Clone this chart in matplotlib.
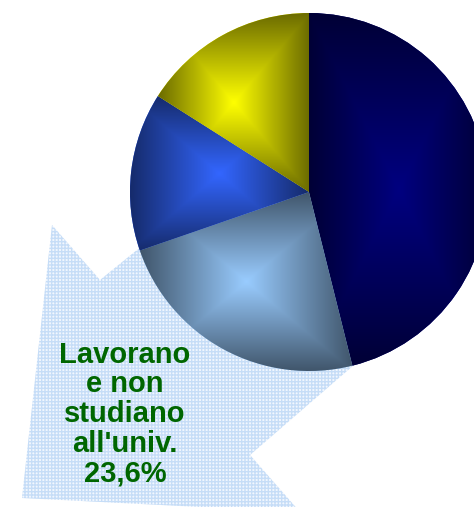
import numpy as np
import matplotlib.pyplot as plt
from matplotlib.patches import Polygon
from matplotlib.colors import to_rgb

# slice shares (percent), clockwise from 12 o'clock
values = [46.1, 23.6, 14.3, 16.0]
centre_colors = ['#000080', '#99ccff', '#3366ff', '#ffff00']
label_text = "Lavorano\ne non\nstudiano\nall'univ.\n23,6%"

W, H = 474, 507
fig = plt.figure(figsize=(W / 100, H / 100), dpi=100)
ax = fig.add_axes([0, 0, 1, 1])
ax.set_xlim(0, W)
ax.set_ylim(0, H)
ax.set_aspect('equal')
ax.axis('off')


def img(x, y):
    # image pixel coords -> axes coords (y up)
    return (x, H - y)


# callout arrow behind the pie
arrow_pts = [img(22, 498), img(52, 225), img(100, 280), img(260, 150),
             img(400, 325), img(250, 455), img(300, 512), img(22, 498)]
arrow = Polygon(arrow_pts, closed=True, facecolor='#f2f7fe',
                edgecolor='#c6ddf7', hatch='+++++', linewidth=0, zorder=1)
ax.add_patch(arrow)

cx, cy = img(309, 192)
R = 179
wedges, _ = ax.pie(values, colors=centre_colors, startangle=90,
                   counterclock=False, center=(cx, cy), radius=R,
                   frame=True, wedgeprops=dict(linewidth=0))
ax.axis('off')

# pyramid ("from centre") gradient inside each slice's bounding box
for w, col in zip(wedges, centre_colors):
    w.set_zorder(2)
    th = np.radians(np.linspace(w.theta1, w.theta2, 200))
    xs = np.concatenate([[cx], cx + R * np.cos(th)])
    ys = np.concatenate([[cy], cy + R * np.sin(th)])
    x0, x1, y0, y1 = xs.min(), xs.max(), ys.min(), ys.max()
    gx, gy = np.meshgrid(np.linspace(x0, x1, 300), np.linspace(y0, y1, 300))
    mx, my = (x0 + x1) / 2, (y0 + y1) / 2
    t = np.maximum(np.abs(gx - mx) / ((x1 - x0) / 2),
                   np.abs(gy - my) / ((y1 - y0) / 2))
    t = np.clip(t, 0, 1)[..., None]
    c = np.array(to_rgb(col))
    rgb = c * (1 - t) + c * 0.42 * t
    im = ax.imshow(rgb, extent=(x0, x1, y0, y1), origin='lower',
                   interpolation='bilinear', zorder=3)
    im.set_clip_path(w)

ax.set_xlim(0, W)
ax.set_ylim(0, H)

ax.text(125, H - 414, label_text, ha='center', va='center',
        fontsize=21, fontweight='bold', color='#006600',
        family=['Liberation Sans', 'DejaVu Sans'], linespacing=1.07,
        zorder=5)

fig.savefig('out.png', dpi=100)
